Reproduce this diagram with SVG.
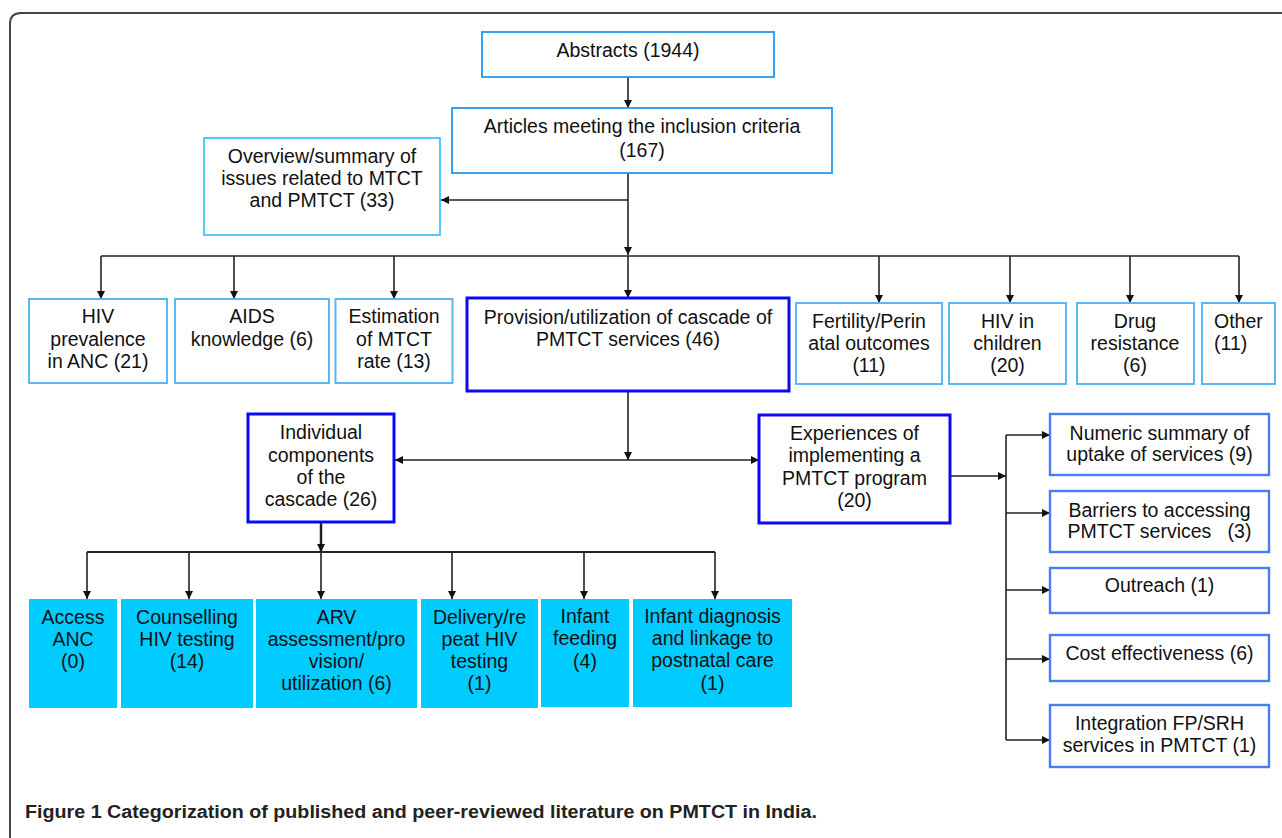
<svg xmlns="http://www.w3.org/2000/svg" width="1282" height="838" viewBox="0 0 1282 838">
<style>
  text { font-family: "Liberation Sans", Arial, sans-serif; font-size: 19.5px; fill: #111; text-anchor: middle; }
  .l { text-anchor: start; }
  .b1 { fill: #fff; stroke: #2398f2; stroke-width: 1.8; }
  .b2 { fill: #fff; stroke: #5cb6f2; stroke-width: 2; }
  .b3 { fill: #fff; stroke: #3fc6f6; stroke-width: 1.8; }
  .bk { fill: #fff; stroke: #0a0aee; stroke-width: 3; }
  .br { fill: #fff; stroke: #4a7df0; stroke-width: 2.4; }
  .cy { fill: #00ccff; stroke: none; }
  .c { fill: none; stroke: #222; stroke-width: 1.6; }
  .a { marker-end: url(#ah); }
  .cap { font-family: "Liberation Sans", Arial, sans-serif; font-size: 18px; font-weight: 700; text-anchor: start; fill: #222; }
</style>
<defs>
  <marker id="ah" viewBox="0 0 10 10" refX="10" refY="5" markerWidth="9" markerHeight="8" markerUnits="userSpaceOnUse" orient="auto-start-reverse">
    <path d="M0,0 L10,5 L0,10 z" fill="#111"/>
  </marker>
</defs>
<rect width="1282" height="838" fill="#fff"/>
<path d="M10 850 L10 24 Q10 13 21 13 L1290 13" fill="none" stroke="#444" stroke-width="2"/>

<g id="connectors">
  <path class="c a" d="M628 77 V108"/>
  <path class="c a" d="M628 173 V255"/>
  <path class="c a" d="M628 200 H441"/>
  <path class="c" d="M101 256 H1239"/>
  <path class="c a" d="M628 256 V298"/>
  <path class="c a" d="M101 256 V299"/>
  <path class="c a" d="M234 256 V299"/>
  <path class="c a" d="M394 256 V299"/>
  <path class="c a" d="M879 256 V303"/>
  <path class="c a" d="M1010 256 V303"/>
  <path class="c a" d="M1130 256 V303"/>
  <path class="c a" d="M1239 256 V303"/>
  <path class="c a" d="M628 391 V460"/>
  <path class="c a" d="M628 460 H759" />
  <path class="c a" d="M628 460 H395" />
  <path class="c a" d="M321 522 V552" style="stroke-width:2.5"/>
  <path class="c" d="M87 552 H715" style="stroke-width:2"/>
  <path class="c a" d="M87 552 V599"/>
  <path class="c a" d="M189 552 V599"/>
  <path class="c a" d="M321 552 V599"/>
  <path class="c a" d="M452 552 V599"/>
  <path class="c a" d="M584 552 V599"/>
  <path class="c a" d="M715 552 V599"/>
  <path class="c a" d="M950 476 H1006"/>
  <path class="c" d="M1006 435 V740"/>
  <path class="c a" d="M1006 435 H1050"/>
  <path class="c a" d="M1006 513 H1050"/>
  <path class="c a" d="M1006 590 H1050"/>
  <path class="c a" d="M1006 659 H1050"/>
  <path class="c a" d="M1006 740 H1050"/>
</g>

<g id="abstracts"><rect class="b1" x="482" y="32" width="292" height="45"/><text x="628" y="57">Abstracts (1944)</text></g>
<g id="articles"><rect class="b1" x="452" y="108" width="380" height="65"/><text x="642" y="133">Articles meeting the inclusion criteria</text><text x="642" y="157">(167)</text></g>
<g id="overview"><rect class="b3" x="204" y="138" width="236" height="97"/><text x="322" y="163">Overview/summary of</text><text x="322" y="185">issues related to MTCT</text><text x="322" y="207">and PMTCT (33)</text></g>

<g id="hiv-prevalence"><rect class="b2" x="29" y="299" width="138" height="84"/><text x="98" y="323">HIV</text><text x="98" y="345.5">prevalence</text><text x="98" y="368">in ANC (21)</text></g>
<g id="aids"><rect class="b2" x="175" y="299" width="154" height="84"/><text x="252" y="323">AIDS</text><text x="252" y="345.5">knowledge (6)</text></g>
<g id="estimation"><rect class="b2" x="335.5" y="299" width="117" height="84"/><text x="394" y="323">Estimation</text><text x="394" y="345.5">of MTCT</text><text x="394" y="368">rate (13)</text></g>
<g id="provision"><rect class="bk" x="467" y="298" width="322" height="93"/><text x="628" y="324">Provision/utilization of cascade of</text><text x="628" y="345.5">PMTCT services (46)</text></g>
<g id="fertility"><rect class="b2" x="796" y="303" width="146" height="81"/><text x="869" y="328">Fertility/Perin</text><text x="869" y="350">atal outcomes</text><text x="869" y="372">(11)</text></g>
<g id="hiv-children"><rect class="b2" x="949" y="303" width="117" height="81"/><text x="1007.5" y="328">HIV in</text><text x="1007.5" y="350">children</text><text x="1007.5" y="372">(20)</text></g>
<g id="drug"><rect class="b2" x="1077" y="303" width="117" height="81"/><text x="1135" y="328">Drug</text><text x="1135" y="350">resistance</text><text x="1135" y="372">(6)</text></g>
<g id="other"><rect class="b2" x="1202" y="303" width="73" height="81"/><text class="l" x="1214" y="328">Other</text><text class="l" x="1214" y="350">(11)</text></g>

<g id="individual"><rect class="bk" x="248" y="414" width="146" height="108"/><text x="321" y="439">Individual</text><text x="321" y="461.5">components</text><text x="321" y="483.5">of the</text><text x="321" y="505.5">cascade (26)</text></g>
<g id="experiences"><rect class="bk" x="759" y="415" width="191" height="108"/><text x="854.5" y="440">Experiences of</text><text x="854.5" y="462">implementing a</text><text x="854.5" y="485">PMTCT program</text><text x="854.5" y="507">(20)</text></g>

<g id="numeric"><rect class="br" x="1050" y="414" width="219" height="61"/><text x="1159.5" y="440">Numeric summary of</text><text x="1159.5" y="461">uptake of services (9)</text></g>
<g id="barriers"><rect class="br" x="1050" y="491" width="219" height="61"/><text x="1159.5" y="517">Barriers to accessing</text><text x="1159.5" y="538" style="white-space:pre">PMTCT services   (3)</text></g>
<g id="outreach"><rect class="br" x="1050" y="568" width="219" height="45"/><text x="1159.5" y="592">Outreach (1)</text></g>
<g id="cost"><rect class="br" x="1050" y="635" width="219" height="46"/><text x="1159.5" y="660">Cost effectiveness (6)</text></g>
<g id="integration"><rect class="br" x="1050" y="705" width="219" height="62"/><text x="1159.5" y="730">Integration FP/SRH</text><text x="1159.5" y="752">services in PMTCT (1)</text></g>

<g id="access"><rect class="cy" x="29" y="599" width="88" height="109"/><text x="73" y="624">Access</text><text x="73" y="646">ANC</text><text x="73" y="668">(0)</text></g>
<g id="counselling"><rect class="cy" x="121" y="599" width="132" height="109"/><text x="187" y="624">Counselling</text><text x="187" y="646">HIV testing</text><text x="187" y="668">(14)</text></g>
<g id="arv"><rect class="cy" x="256" y="599" width="161" height="109"/><text x="336.5" y="624">ARV</text><text x="336.5" y="646">assessment/pro</text><text x="336.5" y="668">vision/</text><text x="336.5" y="690">utilization (6)</text></g>
<g id="delivery"><rect class="cy" x="421" y="599" width="117" height="109"/><text x="479.5" y="624">Delivery/re</text><text x="479.5" y="646">peat HIV</text><text x="479.5" y="668">testing</text><text x="479.5" y="690">(1)</text></g>
<g id="feeding"><rect class="cy" x="541" y="599" width="88" height="108"/><text x="585" y="623">Infant</text><text x="585" y="645">feeding</text><text x="585" y="668">(4)</text></g>
<g id="diagnosis"><rect class="cy" x="633" y="599" width="159" height="108"/><text x="712.5" y="623">Infant diagnosis</text><text x="712.5" y="645">and linkage to</text><text x="712.5" y="667">postnatal care</text><text x="712.5" y="690">(1)</text></g>

<text class="cap" x="25" y="818" textLength="792" lengthAdjust="spacingAndGlyphs"><tspan>Figure 1</tspan> Categorization of published and peer-reviewed literature on PMTCT in India.</text>
</svg>
